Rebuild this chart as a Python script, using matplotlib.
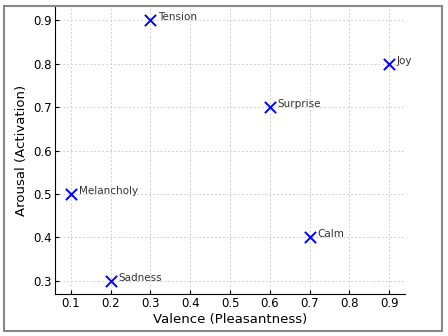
import matplotlib
matplotlib.use("Agg")
import matplotlib.pyplot as plt
from matplotlib.patches import Rectangle

emotions = ["Joy", "Sadness", "Tension", "Calm", "Surprise", "Melancholy"]
valence = [0.9, 0.2, 0.3, 0.7, 0.6, 0.1]
arousal = [0.8, 0.3, 0.9, 0.4, 0.7, 0.5]
x_ticks = [0.1, 0.2, 0.3, 0.4, 0.5, 0.6, 0.7, 0.8, 0.9]
y_ticks = [0.3, 0.4, 0.5, 0.6, 0.7, 0.8, 0.9]

fig = plt.figure(figsize=(4.48, 3.36), dpi=100)
ax = fig.add_axes([55/448, 42/336, 350/448, 287/336])

ax.scatter(valence, arousal, marker='x', color='blue', s=65, linewidths=1.4, zorder=3)
for name, v, a in zip(emotions, valence, arousal):
    ax.text(v + 0.02, a, name, fontsize=7.5, color='#333333', clip_on=False)

ax.set_xticks(x_ticks)
ax.set_yticks(y_ticks)
ax.set_xlabel("Valence (Pleasantness)", fontsize=9.5, labelpad=1.5)
ax.set_ylabel("Arousal (Activation)", fontsize=9.5, labelpad=3.5)
ax.tick_params(labelsize=8.5, length=3, pad=2.5, direction='in', width=0.8)
ax.grid(True, linestyle=(0, (2, 2)), color='#d0d0d0', linewidth=0.7)
ax.set_axisbelow(True)
ax.spines['top'].set_visible(False)
ax.spines['right'].set_visible(False)

fig.patches.append(Rectangle((4/448, 5/336), 438/448, 325/336, transform=fig.transFigure,
                             fill=False, edgecolor='#888888', linewidth=1.5))

fig.savefig("out.png", dpi=100)
